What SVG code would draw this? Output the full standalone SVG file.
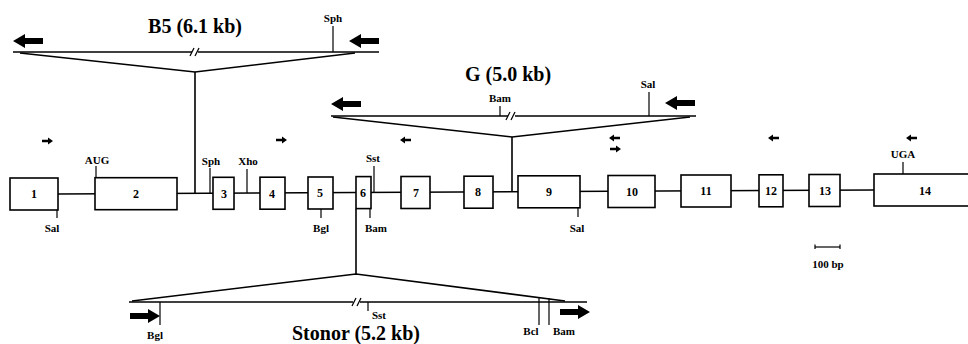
<svg xmlns="http://www.w3.org/2000/svg" xmlns:xlink="http://www.w3.org/1999/xlink" width="968" height="344" viewBox="0 0 968 344">
<style>
.ln{stroke:#000;stroke-width:1.6;fill:none}
.tk{stroke:#000;stroke-width:1.2;fill:none}
.ex{fill:#fff;stroke:#000;stroke-width:1.6}
.en{font-family:"Liberation Serif",serif;font-weight:bold;font-size:12px;text-anchor:middle;fill:#000}
.lb{font-family:"Liberation Serif",serif;font-weight:bold;font-size:11px;text-anchor:middle;fill:#000}
.tt{font-family:"Liberation Serif",serif;font-weight:bold;font-size:20px;text-anchor:middle;fill:#000}
</style>
<defs>
<path id="big" d="M0,0 L12,-7 L12,-3 L30,-3 L30,3 L12,3 L12,7 Z" fill="#000"/>
<path id="sm" d="M0,0 L5,-3.5 L5,-1.3 L11,-1.3 L11,1.3 L5,1.3 L5,3.5 Z" fill="#000"/>
</defs>

<g id="connectors">
<line class="ln" x1="58" y1="194" x2="874" y2="190"/>
<line class="ln" x1="195" y1="72" x2="195" y2="193"/>
<line class="ln" x1="512" y1="137" x2="512" y2="192"/>
<line class="ln" x1="356" y1="209" x2="356" y2="274"/>
</g>

<g id="exon1"><rect class="ex" x="10" y="178" width="48" height="32"/><text class="en" x="34" y="198">1</text></g>
<g id="exon2"><rect class="ex" x="95" y="177.7" width="82" height="32"/><text class="en" x="136" y="198">2</text></g>
<g id="exon3"><rect class="ex" x="213" y="177.3" width="21" height="32"/><text class="en" x="224" y="198">3</text></g>
<g id="exon4"><rect class="ex" x="260" y="177.2" width="25" height="32"/><text class="en" x="272" y="198">4</text></g>
<g id="exon5"><rect class="ex" x="308" y="177" width="25" height="32"/><text class="en" x="320" y="197">5</text></g>
<g id="exon6"><rect class="ex" x="356" y="176.6" width="15" height="32"/><text class="en" x="363" y="197">6</text></g>
<g id="exon7"><rect class="ex" x="401" y="176.5" width="29" height="32"/><text class="en" x="416" y="197">7</text></g>
<g id="exon8"><rect class="ex" x="464" y="176.2" width="29" height="32"/><text class="en" x="478" y="196">8</text></g>
<g id="exon9"><rect class="ex" x="518" y="175.8" width="62" height="32"/><text class="en" x="549" y="196">9</text></g>
<g id="exon10"><rect class="ex" x="608" y="175.5" width="47" height="32"/><text class="en" x="632" y="196">10</text></g>
<g id="exon11"><rect class="ex" x="681" y="175" width="50" height="32"/><text class="en" x="706" y="195">11</text></g>
<g id="exon12"><rect class="ex" x="759" y="174.8" width="24" height="32"/><text class="en" x="771" y="195">12</text></g>
<g id="exon13"><rect class="ex" x="809" y="174.5" width="31" height="32"/><text class="en" x="825" y="195">13</text></g>
<g id="exon14"><rect class="ex" x="874" y="174" width="100" height="32"/><text class="en" x="925" y="195">14</text></g>

<g id="sites">
<line class="tk" x1="96" y1="166" x2="96" y2="177.7"/><text class="lb" x="97" y="164">AUG</text>
<line class="tk" x1="57" y1="210" x2="57" y2="218"/><text class="lb" x="52" y="232">Sal</text>
<line class="tk" x1="210" y1="168" x2="210" y2="193"/><text class="lb" x="211" y="165">Sph</text>
<line class="tk" x1="247" y1="169" x2="247" y2="193"/><text class="lb" x="248" y="165">Xho</text>
<line class="tk" x1="321" y1="209" x2="321" y2="218"/><text class="lb" x="321" y="232">Bgl</text>
<line class="tk" x1="374" y1="166" x2="374" y2="192"/><text class="lb" x="373" y="162">Sst</text>
<line class="tk" x1="370" y1="208.5" x2="370" y2="218"/><text class="lb" x="376" y="232">Bam</text>
<line class="tk" x1="578" y1="207.8" x2="578" y2="217"/><text class="lb" x="577" y="232">Sal</text>
<line class="tk" x1="903" y1="162" x2="903" y2="174"/><text class="lb" x="903" y="158">UGA</text>
</g>

<g id="primers">
<use xlink:href="#sm" transform="translate(53,141) scale(-1,1)"/>
<use xlink:href="#sm" transform="translate(287,140) scale(-1,1)"/>
<use xlink:href="#sm" transform="translate(400,140)"/>
<use xlink:href="#sm" transform="translate(609,138)"/>
<use xlink:href="#sm" transform="translate(621,149) scale(-1,1)"/>
<use xlink:href="#sm" transform="translate(768,138)"/>
<use xlink:href="#sm" transform="translate(906,138)"/>
</g>

<g id="scale">
<line class="tk" x1="815" y1="247" x2="840" y2="247"/>
<line class="tk" x1="815" y1="244.5" x2="815" y2="249"/>
<line class="tk" x1="840" y1="244.5" x2="840" y2="249"/>
<text class="lb" x="828" y="268">100 bp</text>
</g>

<g id="B5">
<text class="tt" x="195" y="33">B5 (6.1 kb)</text>
<line class="ln" x1="13" y1="52" x2="192" y2="52"/>
<line class="ln" x1="198" y1="52" x2="379" y2="52"/>
<line class="tk" x1="190" y1="56" x2="194" y2="48"/>
<line class="tk" x1="195" y1="56" x2="199" y2="48"/>
<polyline class="ln" points="20,53 195,72 355,53"/>
<line class="tk" x1="333" y1="26" x2="333" y2="52"/><text class="lb" x="333" y="22">Sph</text>
<use xlink:href="#big" transform="translate(13,41)"/>
<use xlink:href="#big" transform="translate(349,41)"/>
</g>

<g id="G">
<text class="tt" x="508" y="81">G (5.0 kb)</text>
<line class="ln" x1="331" y1="116" x2="508" y2="116"/>
<line class="ln" x1="515" y1="116" x2="696" y2="116"/>
<line class="tk" x1="506" y1="120" x2="510" y2="112"/>
<line class="tk" x1="511" y1="120" x2="515" y2="112"/>
<polyline class="ln" points="333,117 512,137 690,117"/>
<line class="tk" x1="500" y1="106" x2="500" y2="116"/><text class="lb" x="500" y="102">Bam</text>
<line class="tk" x1="649" y1="92" x2="649" y2="116"/><text class="lb" x="648" y="88">Sal</text>
<use xlink:href="#big" transform="translate(331,104)"/>
<use xlink:href="#big" transform="translate(665,103)"/>
</g>

<g id="Stonor">
<line class="ln" x1="129" y1="302" x2="353" y2="302"/>
<line class="ln" x1="360" y1="302" x2="587" y2="302"/>
<line class="tk" x1="352" y1="306" x2="356" y2="298"/>
<line class="tk" x1="357" y1="306" x2="361" y2="298"/>
<polyline class="ln" points="132,301 356,274 565,301"/>
<line class="tk" x1="160" y1="302" x2="160" y2="325"/><text class="lb" x="155" y="339">Bgl</text>
<line class="tk" x1="368" y1="302" x2="368" y2="311"/><text class="lb" x="379" y="319">Sst</text>
<line class="tk" x1="539" y1="297" x2="539" y2="325"/><text class="lb" x="531" y="335">Bcl</text>
<line class="tk" x1="549" y1="298" x2="549" y2="325"/><text class="lb" x="564" y="335">Bam</text>
<use xlink:href="#big" transform="translate(160,316) scale(-1,1)"/>
<use xlink:href="#big" transform="translate(590,312) scale(-1,1)"/>
<text class="tt" x="356" y="340">Stonor (5.2 kb)</text>
</g>
</svg>
